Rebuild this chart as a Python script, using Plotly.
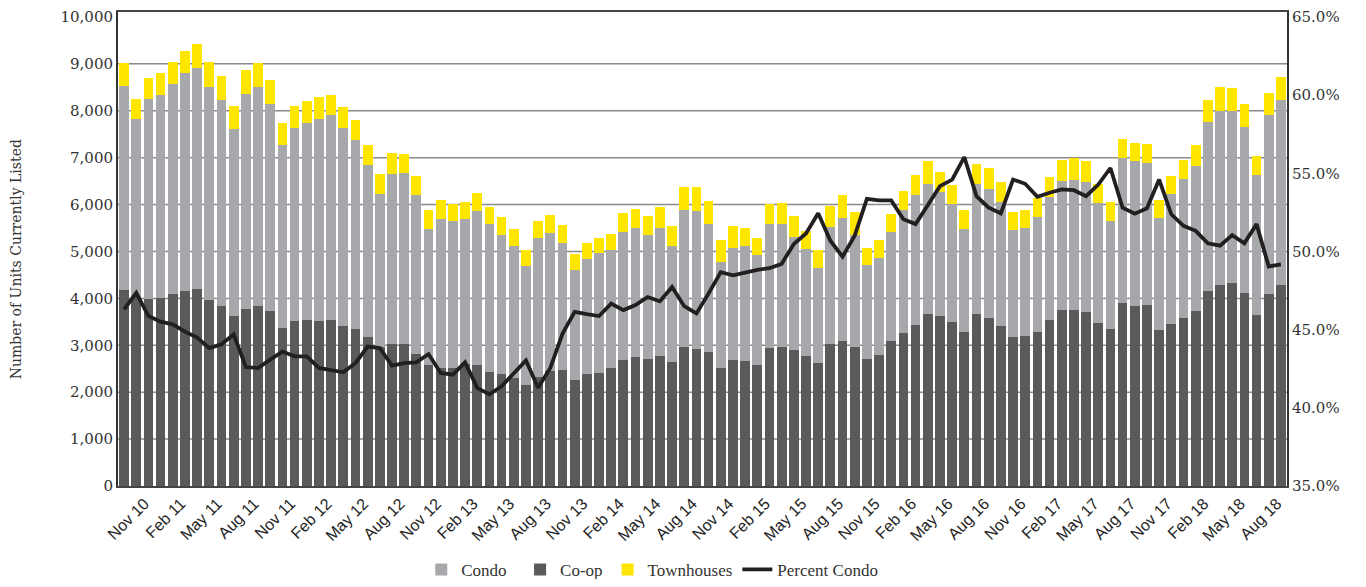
import plotly.graph_objects as go
from plotly.subplots import make_subplots

month_names = ["Jan", "Feb", "Mar", "Apr", "May", "Jun", "Jul", "Aug", "Sep", "Oct", "Nov", "Dec"]
months = []
for yr in range(10, 19):
    for m in month_names:
        months.append(f"{m} {yr}")
months = months[months.index("Sep 10"):months.index("Aug 18") + 1]

coop = [4170, 4030, 3990, 4010, 4090, 4150, 4190, 3960, 3830, 3620, 3770, 3830, 3730, 3370, 3520, 3540,
        3520, 3540, 3410, 3350, 3180, 2970, 3030, 3030, 2820, 2570, 2520, 2520, 2610, 2590, 2440, 2380,
        2310, 2160, 2330, 2460, 2480, 2270, 2380, 2420, 2520, 2690, 2760, 2710, 2780, 2650, 2970, 2930,
        2860, 2520, 2690, 2670, 2570, 2950, 2970, 2900, 2780, 2630, 3030, 3090, 2970, 2710, 2800, 3090,
        3260, 3430, 3670, 3620, 3500, 3280, 3670, 3580, 3410, 3180, 3200, 3280, 3540, 3750, 3750, 3710,
        3470, 3350, 3900, 3830, 3860, 3330, 3450, 3580, 3730, 4150, 4280, 4320, 4110, 3640, 4090, 4280]
condo = [4360, 3790, 4270, 4330, 4490, 4650, 4720, 4550, 4400, 4000, 4590, 4670, 4420, 3910, 4120, 4190,
         4310, 4360, 4230, 4020, 3660, 3250, 3620, 3640, 3380, 2920, 3180, 3120, 3090, 3280, 3150, 2980,
         2810, 2520, 2960, 2940, 2710, 2330, 2470, 2540, 2520, 2730, 2750, 2640, 2730, 2470, 2920, 2940,
         2730, 2250, 2390, 2450, 2350, 2640, 2620, 2410, 2280, 2010, 2500, 2620, 2390, 2010, 2070, 2330,
         2620, 2770, 2770, 2640, 2520, 2200, 2770, 2750, 2640, 2280, 2310, 2450, 2620, 2750, 2770, 2770,
         2560, 2310, 3090, 3090, 3020, 2390, 2770, 2960, 3090, 3620, 3720, 3680, 3550, 3000, 3810, 3960]
townhouses = [490, 440, 440, 470, 460, 470, 510, 530, 510, 490, 510, 510, 510, 470, 470, 470,
              470, 440, 440, 440, 420, 440, 440, 400, 400, 400, 400, 370, 360, 380, 360, 380,
              360, 360, 360, 380, 380, 340, 340, 320, 340, 400, 400, 400, 440, 420, 490, 510,
              490, 470, 470, 380, 360, 420, 440, 440, 380, 400, 440, 490, 490, 360, 380, 380,
              400, 440, 490, 440, 400, 400, 420, 440, 440, 380, 380, 400, 420, 440, 470, 440,
              400, 400, 400, 400, 420, 380, 380, 400, 440, 470, 510, 490, 490, 400, 470, 470]
pct_condo = [46.29, 47.35, 45.87, 45.51, 45.34, 44.87, 44.49, 43.82, 44.07, 44.70, 42.61, 42.55, 43.08, 43.60, 43.29, 43.29,
             42.55, 42.40, 42.27, 42.86, 43.92, 43.82, 42.70, 42.86, 42.91, 43.44, 42.23, 42.12, 42.91, 41.28, 40.86, 41.38,
             42.23, 43.03, 41.28, 42.55, 44.73, 46.14, 45.99, 45.87, 46.67, 46.25, 46.57, 47.09, 46.82, 47.73, 46.50, 46.04,
             47.31, 48.68, 48.47, 48.68, 48.83, 48.93, 49.21, 50.48, 51.15, 52.44, 50.69, 49.67, 51.01, 53.37, 53.27, 53.27,
             52.06, 51.75, 53.01, 54.18, 54.60, 56.04, 53.54, 52.80, 52.44, 54.60, 54.33, 53.50, 53.76, 53.97, 53.92, 53.54,
             54.28, 55.34, 52.80, 52.42, 52.76, 54.60, 52.38, 51.64, 51.32, 50.52, 50.37, 51.05, 50.52, 51.75, 49.04, 49.17]

tick_labels = months[2::3]
y_ticks = list(range(0, 10001, 1000))
pct_ticks = [0.35, 0.40, 0.45, 0.50, 0.55, 0.60, 0.65]

Y_MAX = 10106
NB = "\u00a0"
fig = make_subplots(specs=[[{"secondary_y": True}]])

fig.add_trace(go.Bar(x=months, y=coop, name="Co-op", marker_color="#5a5a5a",
                     marker_line_width=0, legendrank=2), secondary_y=False)
fig.add_trace(go.Bar(x=months, y=condo, name="Condo" + NB * 2, marker_color="#a7a8ab",
                     marker_line_width=0, legendrank=1), secondary_y=False)
fig.add_trace(go.Bar(x=months, y=townhouses, name="Townhouses", marker_color="#ffe600",
                     marker_line_width=0, legendrank=3), secondary_y=False)
fig.add_trace(go.Scatter(x=months, y=[p / 100 for p in pct_condo], name="Percent Condo",
                         mode="lines", line=dict(color="#231f20", width=3.8), legendrank=4),
              secondary_y=True)

for v in y_ticks[1:-1]:
    fig.add_hline(y=v, line=dict(color="#8a8a8a", width=1.5), layer="below")

serif = "DejaVu Serif"
fig.update_layout(
    width=1350, height=571,
    margin=dict(l=110, r=71, t=4, b=93, autoexpand=False),
    barmode="stack", bargap=0.2,
    plot_bgcolor="white", paper_bgcolor="white",
    showlegend=True,
    legend=dict(orientation="h", x=0.2594, xanchor="left", y=-0.177, yanchor="middle",
                font=dict(family="Liberation Serif", size=17, color="#333333"), itemwidth=30,
                traceorder="normal"),
    annotations=[dict(text="Number of Units Currently Listed", textangle=-90,
                      xref="paper", yref="paper", x=-0.0873, y=0.478,
                      xanchor="center", yanchor="middle", showarrow=False,
                      font=dict(family=serif, size=14, color="#333333"))],
)
fig.update_xaxes(type="category", tickmode="array", tickvals=tick_labels, ticktext=tick_labels,
                 tickangle=-45, tickfont=dict(family="Liberation Sans", size=16, color="#222222"),
                 ticklabelshift=-4,
                 showline=True, mirror=True, linecolor="#444444", linewidth=2, ticks="", showgrid=False,
                 automargin=False, domain=[0, 1], range=[-0.5, len(months) - 0.5])
fig.update_yaxes(range=[0, Y_MAX], tickmode="array", tickvals=y_ticks, tickformat=",d", showgrid=False,
                 zeroline=False, automargin=False, ticklabeloverflow="allow",
                 showline=True, linecolor="#333333", linewidth=2,
                 tickfont=dict(family=serif, size=15, color="#333333"),
                 secondary_y=False)
fig.update_yaxes(range=[0.35, 0.35 + 0.30 * Y_MAX / 10000], tickmode="array",
                 tickvals=pct_ticks, tickformat=".1%",
                 showgrid=False, zeroline=False, automargin=False, ticklabeloverflow="allow",
                 showline=True, linecolor="#333333", linewidth=2,
                 tickfont=dict(family=serif, size=15, color="#333333"),
                 secondary_y=True)

fig.write_html("out.html")
